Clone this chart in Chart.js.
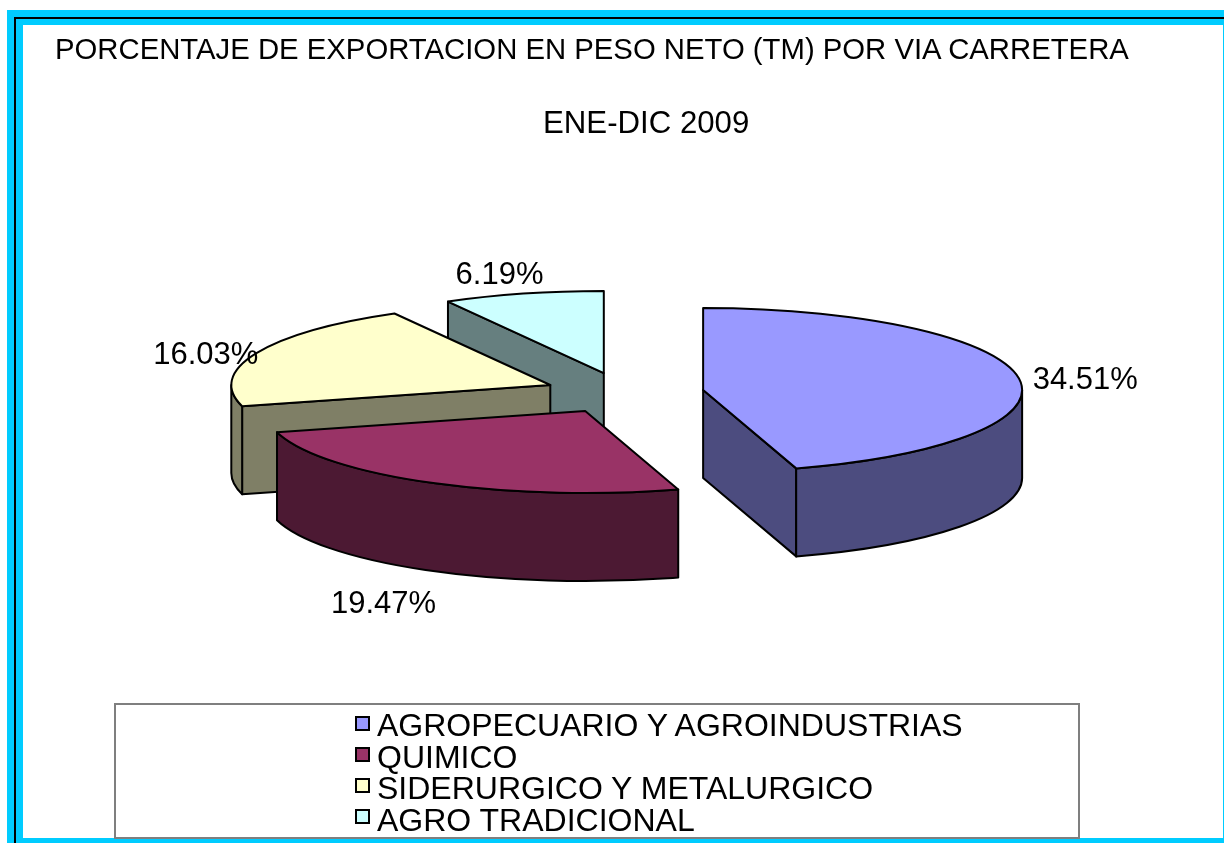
<!DOCTYPE html>
<html>
<head>
<meta charset="utf-8">
<script src="https://cdn.jsdelivr.net/npm/chart.js@4.4.4/dist/chart.umd.min.js"></script>
<style>
  body { margin: 0; width: 1224px; height: 843px; overflow: hidden; background: #fff; font-family: "Liberation Sans", Arial, sans-serif; }
  .frame { position: absolute; left: 7px; top: 10px; width: 1260px; height: 880px; background: #00ccff; }
  .rule { position: absolute; left: 14px; top: 17px; width: 1260px; height: 880px; border-left: 2px solid #000; border-top: 2px solid #000; }
  .paper { position: absolute; left: 23px; top: 25px; width: 1200px; height: 813px; background: #fff; }
  #chart { position: absolute; left: 0; top: 0; }
  .txt { position: absolute; white-space: nowrap; line-height: 1; color: #000; }
  .legend { position: absolute; left: 114px; top: 703px; width: 966px; height: 136px; box-sizing: border-box; border: 2px solid #7f7f7f; background: #fff; }
  .swatch { position: absolute; left: 355px; width: 15px; height: 15px; box-sizing: border-box; border: 2px solid #000; }
</style>
</head>
<body>
<div class="frame"></div>
<div class="rule"></div>
<div class="paper"></div>
<div class="legend"></div>
<canvas id="chart" width="1224" height="843"></canvas>
<div class="txt" style="left:55px; top:34px; font-size:29.3px;">PORCENTAJE DE EXPORTACION EN PESO NETO (TM) POR VIA CARRETERA</div>
<div class="txt" style="left:543px; top:107px; font-size:31.2px;">ENE-DIC 2009</div>
<div id="legendItems"></div>
<script>
// data
const LABELS = ["AGROPECUARIO Y AGROINDUSTRIAS", "QUIMICO", "SIDERURGICO Y METALURGICO", "AGRO TRADICIONAL"]
const VALUES = [34.51, 19.47, 16.03, 6.19]
const COLORS = ["#9999ff", "#993366", "#ffffcc", "#ccffff"]

// 3d look of the excel pie
const TILT = 0.257
const DEPTH = 88

function darken(hex) {
  const n = parseInt(hex.slice(1), 16)
  const r = Math.floor(((n >> 16) & 255) / 2)
  const g = Math.floor(((n >> 8) & 255) / 2)
  const b = Math.floor((n & 255) / 2)
  return `rgb(${r}, ${g}, ${b})`
}

// html legend built from the arrays
const legendEl = document.getElementById("legendItems")
LABELS.forEach((label, i) => {
  const sw = document.createElement("div")
  sw.className = "swatch"
  sw.style.top = (716 + i * 31) + "px"
  sw.style.background = COLORS[i]
  legendEl.appendChild(sw)
  const t = document.createElement("div")
  t.className = "txt"
  t.style.left = "377px"
  t.style.top = (709 + i * 31.5) + "px"
  t.style.fontSize = "32px"
  t.textContent = label
  legendEl.appendChild(t)
})

// draws the arcs as tilted, extruded, exploded slices
const pie3d = {
  id: "pie3d",
  beforeDatasetsDraw(chart) {
    const ctx = chart.ctx
    const meta = chart.getDatasetMeta(0)
    const slices = meta.data.map((arc, i) => {
      const p = arc.getProps(["x", "y", "startAngle", "endAngle", "outerRadius"], true)
      const mid = (p.startAngle + p.endAngle) / 2
      const off = arc.options.offset || 0
      return {
        i, mid,
        s: p.startAngle, e: p.endAngle, r: p.outerRadius,
        cx: p.x + Math.cos(mid) * off,
        cy: p.y + Math.sin(mid) * off * TILT,
        top: arc.options.backgroundColor,
        side: darken(arc.options.backgroundColor)
      }
    })

    ctx.save()
    ctx.lineWidth = 2
    ctx.lineJoin = "round"
    ctx.strokeStyle = "#000"

    const face = (sl, a) => {
      const rx = sl.cx + sl.r * Math.cos(a)
      const ry = sl.cy + sl.r * TILT * Math.sin(a)
      ctx.beginPath()
      ctx.moveTo(sl.cx, sl.cy)
      ctx.lineTo(rx, ry)
      ctx.lineTo(rx, ry + DEPTH)
      ctx.lineTo(sl.cx, sl.cy + DEPTH)
      ctx.closePath()
      ctx.fillStyle = sl.side
      ctx.fill()
      ctx.stroke()
    }

    // back slices first
    const order = slices.slice().sort((a, b) => Math.sin(a.mid) - Math.sin(b.mid))
    order.forEach(sl => {
      if (Math.cos(sl.s) < -0.01) face(sl, sl.s)
      if (Math.cos(sl.e) > 0.01) face(sl, sl.e)

      // outer wall, only the part facing the viewer
      const a = Math.max(sl.s, 0)
      const b = Math.min(sl.e, Math.PI)
      if (b > a) {
        ctx.beginPath()
        ctx.ellipse(sl.cx, sl.cy, sl.r, sl.r * TILT, 0, a, b)
        ctx.ellipse(sl.cx, sl.cy + DEPTH, sl.r, sl.r * TILT, 0, b, a, true)
        ctx.closePath()
        ctx.fillStyle = sl.side
        ctx.fill()
        ctx.stroke()
      }

      // top face
      ctx.beginPath()
      ctx.moveTo(sl.cx, sl.cy)
      ctx.ellipse(sl.cx, sl.cy, sl.r, sl.r * TILT, 0, sl.s, sl.e)
      ctx.closePath()
      ctx.fillStyle = sl.top
      ctx.fill()
      ctx.stroke()
    })

    // percentage labels outside the rim
    ctx.font = '31px "Liberation Sans", Arial, sans-serif'
    ctx.fillStyle = "#000"
    ctx.textBaseline = "alphabetic"
    slices.forEach(sl => {
      const txt = VALUES[sl.i].toFixed(2) + "%"
      const w = ctx.measureText(txt).width
      const c = Math.cos(sl.mid), s = Math.sin(sl.mid)
      let x = sl.cx + sl.r * c
      let y = sl.cy + sl.r * TILT * s + (s > 0 ? DEPTH : 0)
      if (c > 0.5) { ctx.textAlign = "left"; x += 14 }
      else if (c < -0.5) { ctx.textAlign = "right"; x += 2 }
      else { ctx.textAlign = "center"; x += c * w * 0.8 - 6 }
      y += s > 0.5 ? 42 : s < -0.5 ? -10 : 11
      ctx.fillText(txt, x, y)
    })
    ctx.restore()
    return false
  }
}

new Chart(document.getElementById("chart"), {
  type: "pie",
  data: {
    labels: LABELS,
    datasets: [{
      data: VALUES,
      backgroundColor: COLORS,
      borderColor: "#000",
      borderWidth: 2,
      offset: 80
    }]
  },
  options: {
    responsive: false,
    animation: false,
    events: [],
    radius: 319,
    layout: { padding: { left: 24, right: 0, top: 0, bottom: 57 } },
    plugins: {
      legend: { display: false },
      tooltip: { enabled: false }
    }
  },
  plugins: [pie3d]
})
</script>
</body>
</html>
